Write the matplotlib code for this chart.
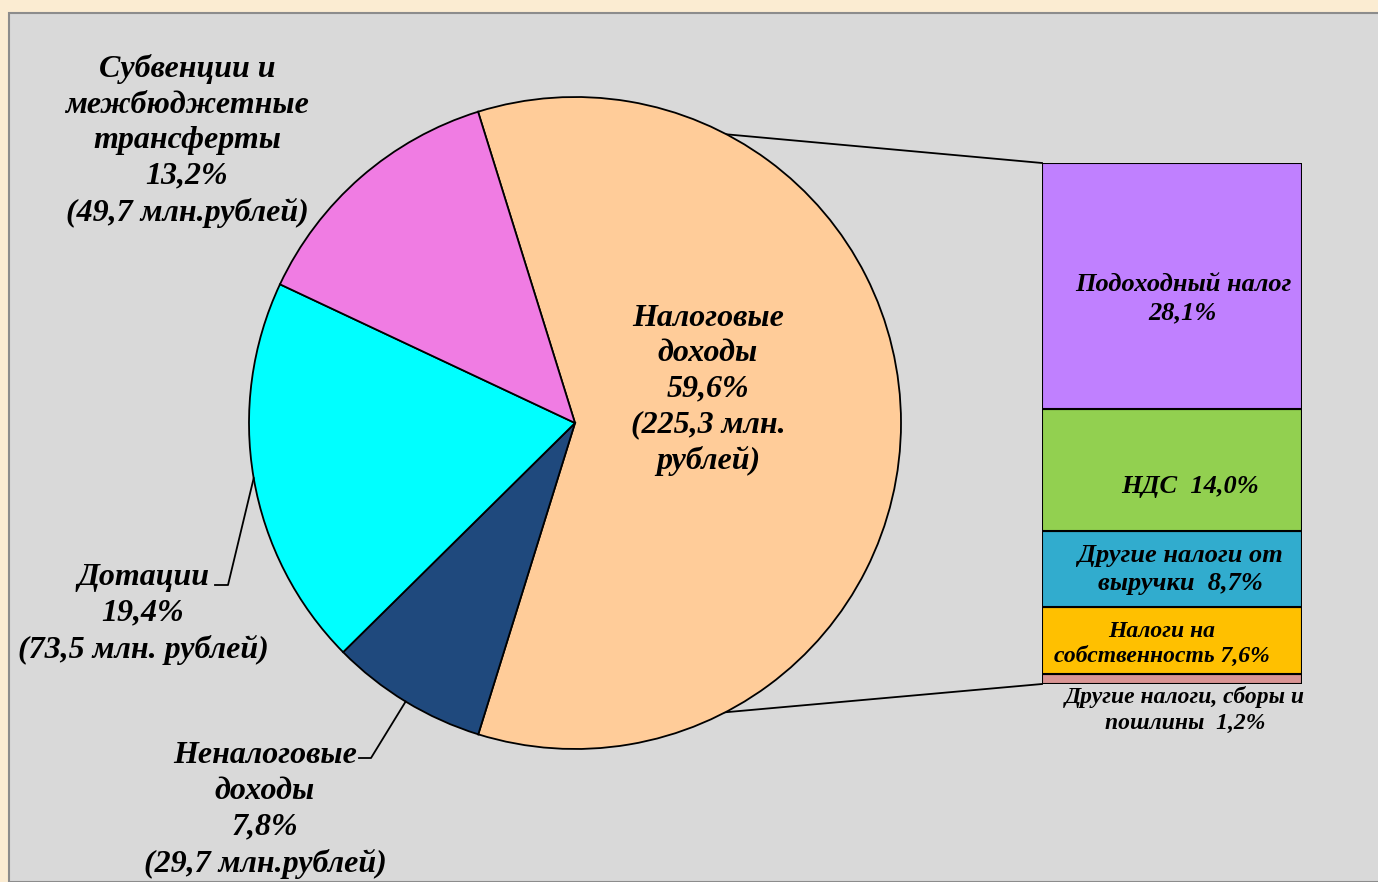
import numpy as np
import matplotlib.pyplot as plt
from matplotlib.patches import Rectangle

# pie data
pie_names = ['Налоговые\nдоходы\n59,6%\n(225,3 млн.\nрублей)',
             'Неналоговые\nдоходы\n7,8%\n(29,7 млн.рублей)',
             'Дотации\n19,4%\n(73,5 млн. рублей)',
             'Субвенции и\nмежбюджетные\nтрансферты\n13,2%\n(49,7 млн.рублей)']
pie_values = [59.6, 7.8, 19.4, 13.2]
pie_colors = ['#FFCC99', '#1F497D', '#00FFFF', '#F07CE3']

# breakdown of tax income (bottom to top)
bar_names = ['Другие налоги, сборы и\nпошлины  1,2%',
             'Налоги на\nсобственность 7,6%',
             'Другие налоги от\nвыручки  8,7%',
             'НДС  14,0%',
             'Подоходный налог\n28,1%']
bar_values = [1.2, 7.6, 8.7, 14.0, 28.1]
bar_colors = ['#D99594', '#FFC000', '#31ACCE', '#92D050', '#C080FF']

W, H = 1378, 882
font = dict(family='Liberation Serif', weight='bold', style='italic')

fig = plt.figure(figsize=(W / 100, H / 100), dpi=100)
fig.patch.set_facecolor('#FBECD2')
fig.patches.append(Rectangle((9 / W, 0), 1.0, (H - 13) / H, transform=fig.transFigure,
                             facecolor='#D9D9D9', edgecolor='#8C8C8C', linewidth=1.5,
                             zorder=-5))

ax = fig.add_axes([0, 0, 1, 1])
ax.patch.set_visible(False)
cx, cy, r = 575, H - 423, 326
start = 107.3
wedges, _ = ax.pie(pie_values, colors=pie_colors, startangle=start, counterclock=False,
                   center=(cx, cy), radius=r,
                   wedgeprops=dict(edgecolor='black', linewidth=1.3))
ax.set_xlim(0, W)
ax.set_ylim(0, H)
ax.axis('off')

# labels
ax.text(708, H - 390, pie_names[0], ha='center', va='center', fontsize=23,
        linespacing=1.3, **font)
ax.text(187, H - 141, pie_names[3], ha='center', va='center', fontsize=23,
        linespacing=1.3, **font)
ax.text(143, H - 614, pie_names[2], ha='center', va='center', fontsize=23,
        linespacing=1.3, **font)
ax.text(265, H - 810, pie_names[1], ha='center', va='center', fontsize=23,
        linespacing=1.3, **font)

# leader lines
def edge_point(frac_mid):
    ang = np.deg2rad(start - 360 * frac_mid)
    return cx + r * np.cos(ang), cy + r * np.sin(ang)

fr = np.array(pie_values) / sum(pie_values)
cum = np.cumsum(fr)
ex, ey = edge_point(cum[1] + fr[2] / 2)
ax.plot([215, 228, ex], [H - 585, H - 585, ey], color='black', lw=1.3)
ex, ey = edge_point(cum[0] + fr[1] / 2)
ax.plot([359, 371, ex], [H - 758, H - 758, ey], color='black', lw=1.3)

# stacked bar
bx0, bx1, by0, by1 = 1042, 1302, 684, 163
bax = fig.add_axes([bx0 / W, (H - by0) / H, (bx1 - bx0) / W, (by0 - by1) / H])
bax.patch.set_visible(False)
bottom = 0
for v, c in zip(bar_values, bar_colors):
    bax.bar(0, v, width=1, bottom=bottom, color=c, edgecolor='black', linewidth=1.5)
    bottom += v
bax.set_xlim(-0.5, 0.5)
bax.set_ylim(0, sum(bar_values))
bax.axis('off')

bax.text(0.042, 44.1, bar_names[4], ha='center', va='center', fontsize=19,
         linespacing=1.32, **font)
bax.text(0.069, 22.6, bar_names[3], ha='center', va='center', fontsize=19, **font)
bax.text(0.033, 13.1, bar_names[2], ha='center', va='center', fontsize=19,
         linespacing=1.25, **font)
bax.text(-0.038, 4.6, bar_names[1], ha='center', va='center', fontsize=17,
         linespacing=1.25, **font)
ax.text(1185, H - 710, bar_names[0], ha='center', va='center', fontsize=17,
        linespacing=1.25, **font)

# connectors from pie to bar, drawn behind the pie
to_ax = bax.transData + ax.transData.inverted()
total = sum(bar_values)
for a, yb in [(start, total), (start - 360 * fr[0], 0)]:
    a = np.deg2rad(a)
    px, py = to_ax.transform((-0.5, yb))
    ax.plot([cx + r * np.cos(a), px], [cy + r * np.sin(a), py], color='black', lw=1.3,
            zorder=0)

fig.savefig('out.png', dpi=100, facecolor=fig.get_facecolor())
